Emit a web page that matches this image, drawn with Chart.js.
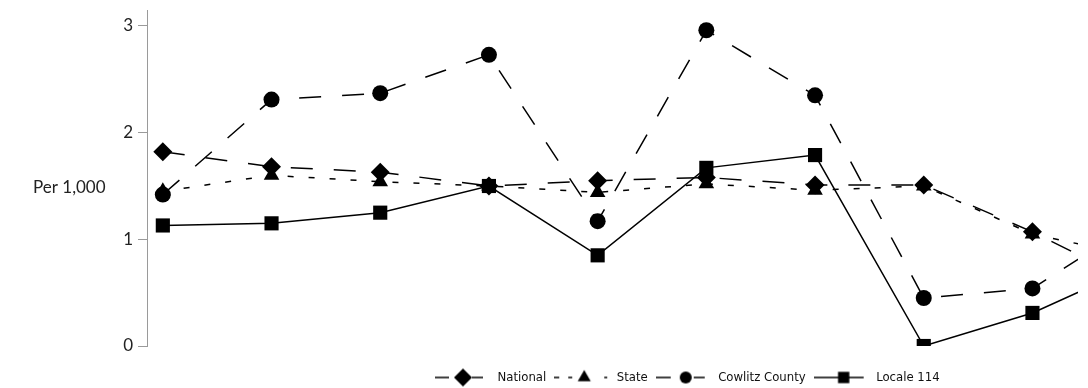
<!DOCTYPE html>
<html>
<head>
<meta charset="utf-8">
<script src="https://cdn.jsdelivr.net/npm/chart.js@4.4.1/dist/chart.umd.min.js"></script>
<style>
html,body{margin:0;padding:0;background:#fff;overflow:hidden;}
#wrap{position:relative;width:1088px;height:388px;}
</style>
</head>
<body>
<div id="wrap"><canvas id="c" width="1088" height="388"></canvas></div>
<script>
// ---- data ----
const periods = ['1','2','3','4','5','6','7','8','9','10'];
const seriesNames = ['National','State','Cowlitz County','Locale 114'];
const national = [1.82, 1.68, 1.63, 1.50, 1.55, 1.58, 1.51, 1.51, 1.07, 0.56];
const state    = [1.45, 1.60, 1.54, 1.50, 1.44, 1.52, 1.46, 1.50, 1.05, 0.83];
const cowlitz  = [1.42, 2.31, 2.37, 2.73, 1.17, 2.96, 2.35, 0.45, 0.54, 1.19];
const locale   = [1.13, 1.15, 1.25, 1.50, 0.85, 1.67, 1.79, 0.00, 0.31, 0.77];
const yTicks = [0, 1, 2, 3];
const yAxisTitle = 'Per 1,000';

// ---- helpers ----
const toPoints = vals => vals.map((v, i) => ({x: i, y: v}));
const H = Chart.helpers;

const probe = document.createElement('canvas').getContext('2d');
function fontAvailable(name) {
  const s = 'mmmmmmmmmmlliWWW National County';
  for (const base of ['monospace', 'serif']) {
    probe.font = '40px ' + base; const a = probe.measureText(s).width;
    probe.font = "40px '" + name + "', " + base; const b = probe.measureText(s).width;
    if (Math.abs(a - b) > 0.5) return true;
  }
  return false;
}
const narrowCandidates = ['Liberation Sans Narrow', 'Arial Narrow', 'DejaVu Sans Condensed', 'Roboto Condensed', 'Open Sans Condensed', 'Noto Sans Condensed'];
let legendFamily = narrowCandidates.find(fontAvailable) || 'Liberation Sans';
legendFamily = "'" + legendFamily + "', sans-serif";
probe.font = '14px ' + legendFamily;
const natW = probe.measureText('National').width;
const legendSize = Math.max(13, Math.min(15, Math.round(14 * 44 / natW * 2) / 2));

function makeIcon(segs, style, cx, r) {
  const c = document.createElement('canvas');
  c.width = 56; c.height = 20;
  const g = c.getContext('2d');
  g.strokeStyle = '#000'; g.lineWidth = 1.5;
  segs.forEach(([a, b]) => { g.beginPath(); g.moveTo(a, 10); g.lineTo(b, 10); g.stroke(); });
  g.fillStyle = '#000'; g.strokeStyle = '#000';
  H.drawPoint(g, {pointStyle: style, radius: r, rotation: 0, borderWidth: 0}, cx, 10);
  return c;
}
const legendIcons = [
  makeIcon([[0,14],[37,48]], 'rectRot', 28, 9),
  makeIcon([[0,5],[14,18],[50,53]], 'triangle', 30, 7.5),
  makeIcon([[0,15],[38,49]], 'circle', 30, 6),
  makeIcon([[0,50]], 'rect', 30, 8)
];

const yTitlePlugin = {
  id: 'yTitle',
  afterDraw(chart) {
    const ctx = chart.ctx;
    ctx.save();
    ctx.font = '17px Lato';
    ctx.fillStyle = '#222';
    ctx.textAlign = 'left';
    ctx.textBaseline = 'middle';
    ctx.fillText(yAxisTitle, 33, 188);
    ctx.restore();
  }
};
const legendPlace = {
  id: 'legendPlace',
  afterLayout(chart) {
    const lg = chart.legend;
    if (!lg) return;
    lg.left = 427;
    lg.top += 6; lg.bottom += 6;
  }
};

const common = {
  borderColor: '#000', backgroundColor: '#000', borderWidth: 1.5,
  pointBackgroundColor: '#000', pointBorderColor: '#000', pointBorderWidth: 0,
  clip: 0, tension: 0, fill: false
};

new Chart(document.getElementById('c'), {
  type: 'line',
  data: {
    labels: periods,
    datasets: [
      Object.assign({label: seriesNames[0], data: toPoints(national), borderDash: [22, 21], pointStyle: 'rectRot', pointRadius: 9.5}, common),
      Object.assign({label: seriesNames[1], data: toPoints(state), borderDash: [6, 15], pointStyle: 'triangle', pointRadius: 9}, common),
      Object.assign({label: seriesNames[2], data: toPoints(cowlitz), borderDash: [22, 21], pointStyle: 'circle', pointRadius: 8}, common),
      Object.assign({label: seriesNames[3], data: toPoints(locale), pointStyle: 'rect', pointRadius: 10}, common)
    ]
  },
  options: {
    responsive: false,
    animation: false,
    devicePixelRatio: 1,
    events: [],
    layout: {padding: {top: 8, left: 0, right: 0, bottom: 0}},
    scales: {
      x: {
        type: 'linear', min: -0.1456, max: 8.419,
        ticks: {display: false}, grid: {display: false}, border: {display: false},
        afterFit(s) { s.height = 11; s.paddingLeft = 0; s.paddingRight = 0; }
      },
      y: {
        min: 0, max: 3.15,
        afterBuildTicks(s) { s.ticks = yTicks.map(v => ({value: v})); },
        ticks: {font: {size: 17, family: 'Lato'}, color: '#222', padding: 5},
        grid: {drawOnChartArea: false, drawTicks: true, tickLength: 9, color: '#9a9a9a', lineWidth: 1},
        border: {display: true, color: '#9a9a9a', width: 1},
        afterFit(s) { s.width = 147; s.paddingTop = 0; s.paddingBottom = 0; }
      }
    },
    plugins: {
      tooltip: {enabled: false},
      legend: {
        position: 'bottom', align: 'start',
        labels: {
          usePointStyle: true, pointStyleWidth: 56, padding: 8, color: '#111',
          font: {size: legendSize, family: legendFamily},
          generateLabels(chart) {
            return chart.data.datasets.map((ds, i) => ({
              text: ds.label, pointStyle: legendIcons[i], fillStyle: '#000',
              strokeStyle: '#000', lineWidth: 1, hidden: false, datasetIndex: i, fontColor: '#111'
            }));
          }
        }
      }
    }
  },
  plugins: [yTitlePlugin, legendPlace]
});
</script>
</body>
</html>
